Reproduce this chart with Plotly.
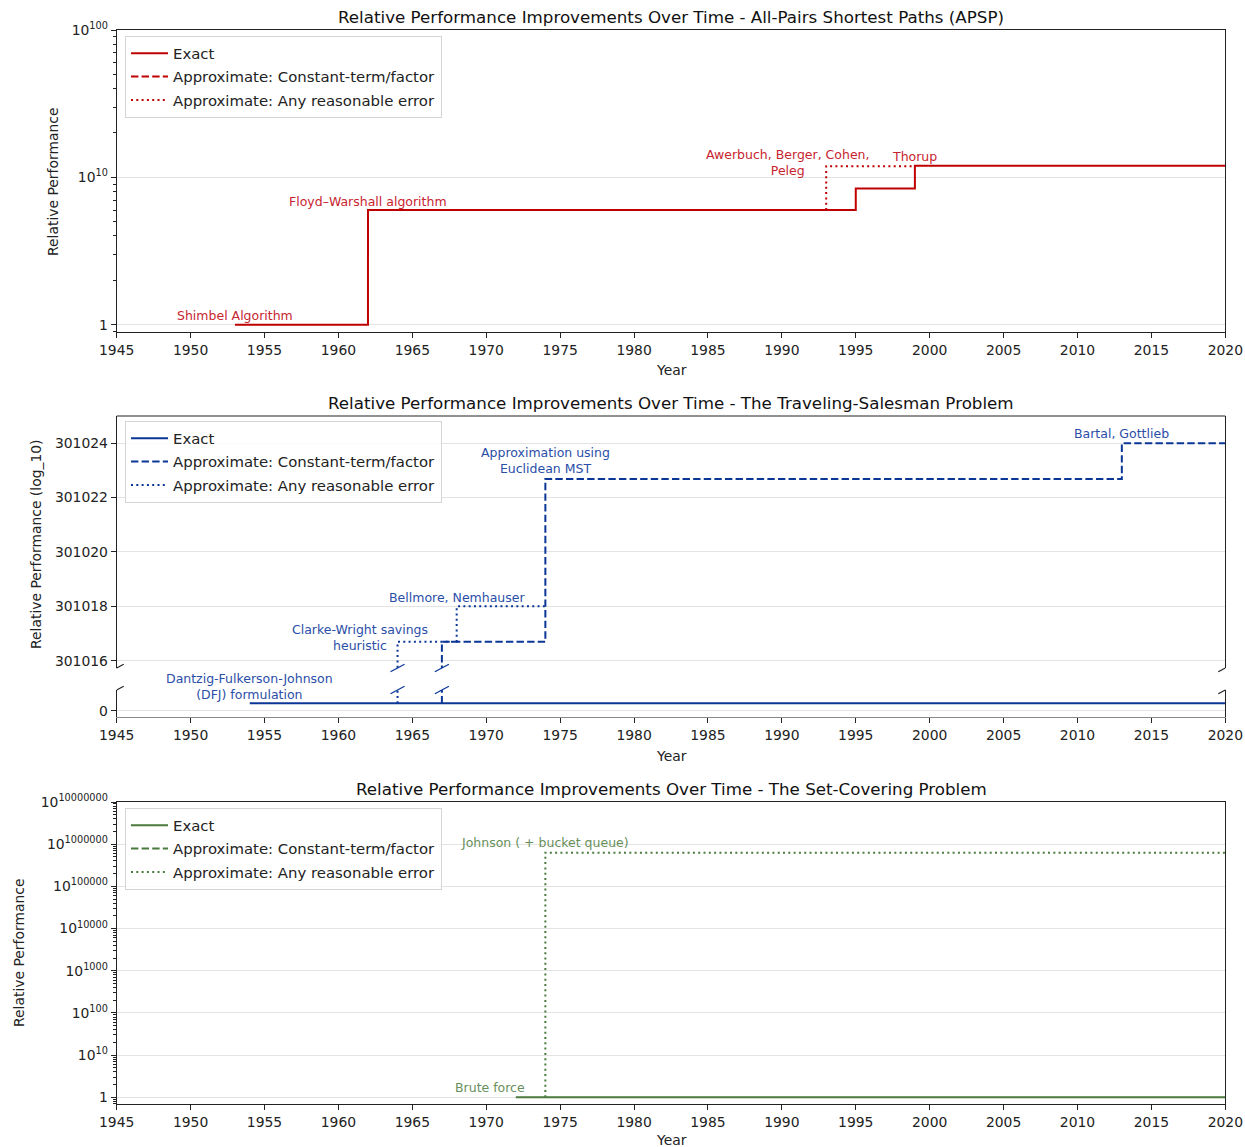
import math
import plotly.graph_objects as go

W, H = 1245, 1147
FONT = "DejaVu Sans"

# ---------------- data ----------------
YEAR_TICKS = list(range(1945, 2021, 5))

# APSP: values are log10(relative performance), shown on a log axis
apsp_exact_years = [1953, 1962, 1995, 1999, 2020]
apsp_exact_vals = [1, 6.0, 8.4, 12.0, 12.0]
apsp_const_years = []
apsp_const_vals = []
apsp_any_years = [1993, 1993, 1999]
apsp_any_vals = [6.0, 11.9, 11.9]
apsp_labels = ["Shimbel Algorithm", "Floyd\u2013Warshall algorithm",
               "Awerbuch, Berger, Cohen,<br>Peleg", "Thorup"]
apsp_label_years = [1953, 1962, 1990.4, 1999]
apsp_label_vals = [1.06, 6.3, 10.2, 12.8]
apsp_tickvals = [1, 10, 100]
apsp_ticktext = ["1", "10<sup>10</sup>", "10<sup>100</sup>"]

# TSP: values are log10(relative performance), broken linear axis
tsp_exact_years = [1954, 2020]
tsp_exact_vals = [0.301, 0.301]
tsp_const_years = [1967, 1967, 1974, 2013, 2020]
tsp_const_vals = [0.301, 301016.7, 301022.68, 301024.0, 301024.0]
tsp_any_years = [1964, 1964, 1968, 1974]
tsp_any_vals = [0.301, 301016.7, 301018.0, 301018.0]
tsp_labels = ["Dantzig-Fulkerson-Johnson<br>(DFJ) formulation",
              "Clarke-Wright savings<br>heuristic", "Bellmore, Nemhauser",
              "Approximation using<br>Euclidean MST", "Bartal, Gottlieb"]
tsp_label_years = [1954, 1961.45, 1968, 1974, 2013]
tsp_label_vals = [0.45, 301016.37, 301018.13, 301022.86, 301024.15]
tsp_label_axis = ["lower", "upper", "upper", "upper", "upper"]
tsp_upper_ticks = [301016, 301018, 301020, 301022, 301024]
tsp_lower_ticks = [0]

# Set covering
sc_exact_years = [1972, 2020]
sc_exact_vals = [1, 1]
sc_const_years = []
sc_const_vals = []
sc_any_years = [1974, 1974, 2020]
sc_any_vals = [1, 6.3e5, 6.3e5]
sc_labels = ["Brute force", "Johnson ( + bucket queue)"]
sc_label_years = [1970.25, 1974]
sc_label_vals = [1.24, 8.0e5]
sc_tickvals = [10 ** k for k in range(8)]
sc_ticktext = ["1"] + ["10<sup>%s</sup>" % (10 ** k) for k in range(1, 8)]

SERIES_NAMES = ["Exact", "Approximate: Constant-term/factor",
                "Approximate: Any reasonable error"]

# ---------------- styles ----------------
RED, RED_T = "#BF0000", "#C8242E"
BLUE, BLUE_T = "#0A3696", "#2A4EA8"
GREEN, GREEN_T = "#4B7A3D", "#678F5A"
DASHES = ["solid", "7.4px,3.2px", "2px,3.3px"]
GRID = "#E3E3E3"
TXT = "#222222"


def px_x(p):
    return p / W


def px_y(p):
    return 1 - p / H


XDOM = [px_x(116.7), px_x(1225.3)]

fig = go.Figure()


def add_series(years, vals, name_idx, color, xa, ya, legend, show=True):
    x = years if len(years) else [None]
    y = vals if len(vals) else [None]
    fig.add_trace(go.Scatter(
        x=x, y=y, mode="lines", line_shape="hv",
        line=dict(color=color, width=2, dash=DASHES[name_idx]),
        name=SERIES_NAMES[name_idx], xaxis=xa, yaxis=ya,
        legend=legend, legendgroup=legend + str(name_idx),
        showlegend=show, hoverinfo="skip"))


# Panel 1
add_series(apsp_exact_years, apsp_exact_vals, 0, RED, "x", "y", "legend")
add_series(apsp_const_years, apsp_const_vals, 1, RED, "x", "y", "legend")
add_series(apsp_any_years, apsp_any_vals, 2, RED, "x", "y", "legend")

# Panel 2 (upper y2, lower y3)
for ya, show in (("y2", True), ("y3", False)):
    add_series(tsp_exact_years, tsp_exact_vals, 0, BLUE, "x2", ya, "legend2", show)
    add_series(tsp_const_years, tsp_const_vals, 1, BLUE, "x2", ya, "legend2", show)
    add_series(tsp_any_years, tsp_any_vals, 2, BLUE, "x2", ya, "legend2", show)

# Panel 3
add_series(sc_exact_years, sc_exact_vals, 0, GREEN, "x3", "y4", "legend3")
add_series(sc_const_years, sc_const_vals, 1, GREEN, "x3", "y4", "legend3")
add_series(sc_any_years, sc_any_vals, 2, GREEN, "x3", "y4", "legend3")

tickfont = dict(family=FONT, size=13.9, color=TXT)
xcommon = dict(range=[1945, 2020], tickvals=YEAR_TICKS, ticks="outside",
               ticklen=5, tickcolor="#222", showgrid=False, zeroline=False,
               showline=True, linecolor="#222", linewidth=1, automargin=False,
               tickfont=tickfont, domain=XDOM)
ycommon = dict(ticks="outside", ticklen=5, tickcolor="#222", showgrid=True,
               gridcolor=GRID, gridwidth=1, zeroline=False, showline=True,
               linecolor="#222", linewidth=1, mirror=True, automargin=False,
               tickfont=tickfont)

minor_top = [0.9] + list(range(2, 10)) + list(range(20, 100, 10))
minor_sc = [0.7, 0.8, 0.9] + [m * 10 ** k for k in range(7) for m in range(2, 10)]

fig.update_layout(
    width=W, height=H, margin=dict(l=0, r=0, t=0, b=0, autoexpand=False),
    paper_bgcolor="white", plot_bgcolor="white",
    font=dict(family=FONT, color=TXT),
    xaxis=dict(anchor="y", mirror=True, **xcommon),
    yaxis=dict(type="log", range=[-0.05, 2.0], domain=[px_y(332), px_y(30)],
               tickvals=apsp_tickvals, ticktext=apsp_ticktext, anchor="x",
               minor=dict(tickvals=minor_top, ticks="outside", ticklen=3,
                          tickcolor="#222", showgrid=False),
               **ycommon),
    xaxis2=dict(anchor="y3", **xcommon),
    yaxis2=dict(range=[301015.73, 301025.0], domain=[px_y(668), px_y(416)],
                tickvals=tsp_upper_ticks, tickformat="d", anchor="x2",
                **ycommon),
    yaxis3=dict(range=[-0.256, 0.841], domain=[px_y(717), px_y(690)],
                tickvals=tsp_lower_ticks, anchor="x2", **ycommon),
    xaxis3=dict(anchor="y4", mirror=True, **xcommon),
    yaxis4=dict(type="log", range=[-0.159, 7.0], domain=[px_y(1104), px_y(802)],
                tickvals=sc_tickvals, ticktext=sc_ticktext, anchor="x3",
                minor=dict(tickvals=minor_sc, ticks="outside", ticklen=3,
                           tickcolor="#222", showgrid=False),
                **ycommon),
)
fig.update_layout(xaxis2=dict(linecolor="#8A8A8A"))

legend_common = dict(xanchor="left", yanchor="top",
                     bgcolor="rgba(255,255,255,0.85)", bordercolor="#D5D5D5",
                     borderwidth=1, font=dict(family=FONT, size=14.9, color=TXT),
                     itemwidth=37, tracegroupgap=1)
fig.update_layout(
    legend=dict(x=px_x(125), y=px_y(36), **legend_common),
    legend2=dict(x=px_x(125), y=px_y(421), **legend_common),
    legend3=dict(x=px_x(125), y=px_y(808), **legend_common),
)

annotations = []
titles = ["Relative Performance Improvements Over Time - All-Pairs Shortest Paths (APSP)",
          "Relative Performance Improvements Over Time - The Traveling-Salesman Problem",
          "Relative Performance Improvements Over Time - The Set-Covering Problem"]
title_y = [17, 403, 789]
year_y = [370, 756, 1140]
ytitles = ["Relative Performance", "Relative Performance (log_10)", "Relative Performance"]
ytitle_pos = [(53, 182), (36, 544), (19, 953)]
xc = (116.7 + 1225.3) / 2
for t, ty, yy, yt, (yx, yyc) in zip(titles, title_y, year_y, ytitles, ytitle_pos):
    annotations.append(dict(text=t, x=px_x(xc), y=px_y(ty), xref="paper", yref="paper",
                            showarrow=False, xanchor="center", yanchor="middle",
                            font=dict(family=FONT, size=16.7, color="#111")))
    annotations.append(dict(text="Year", x=px_x(xc), y=px_y(yy), xref="paper", yref="paper",
                            showarrow=False, xanchor="center", yanchor="middle",
                            font=dict(family=FONT, size=13.9, color=TXT)))
    annotations.append(dict(text=yt, x=px_x(yx), y=px_y(yyc), xref="paper", yref="paper",
                            showarrow=False, xanchor="center", yanchor="middle",
                            textangle=-90, font=dict(family=FONT, size=13.9, color=TXT)))


def lab(text, x, y, xref, yref, color):
    return dict(text=text, x=x, y=y, xref=xref, yref=yref, showarrow=False,
                xanchor="center", yanchor="bottom", align="center", borderpad=0,
                yshift=-3, font=dict(family=FONT, size=12.5, color=color))


for t, x, y in zip(apsp_labels, apsp_label_years, apsp_label_vals):
    annotations.append(lab(t, x, math.log10(y), "x", "y", RED_T))
for t, x, y, a in zip(tsp_labels, tsp_label_years, tsp_label_vals, tsp_label_axis):
    annotations.append(lab(t, x, y, "x2", "y2" if a == "upper" else "y3", BLUE_T))
for t, x, y in zip(sc_labels, sc_label_years, sc_label_vals):
    annotations.append(lab(t, x, math.log10(y), "x3", "y4", GREEN_T))
fig.update_layout(annotations=annotations)

# broken-axis decorations for panel 2
shapes = [dict(type="line", xref="paper", yref="paper", x0=XDOM[0], x1=XDOM[1],
               y0=px_y(416), y1=px_y(416), line=dict(color="#222", width=1))]
break_years = [1945, 1964, 1967, 2020]
break_colors = ["#222", BLUE, BLUE, "#222"]
for bx, bc in zip(break_years, break_colors):
    for by in (668, 690):
        shapes.append(dict(type="line", xref="x2", yref="paper",
                           xsizemode="pixel", xanchor=bx, x0=-7, x1=7,
                           ysizemode="pixel", yanchor=px_y(by), y0=-3.7, y1=3.7,
                           line=dict(color=bc, width=1.3)))
fig.update_layout(shapes=shapes)

fig.write_html("out.html", config={"displayModeBar": False},
               post_script="document.body.style.margin='0';")
